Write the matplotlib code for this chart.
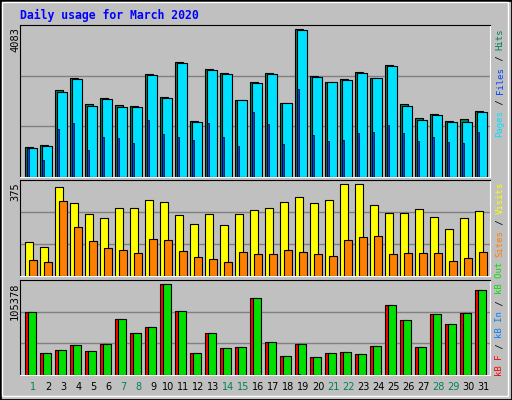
import matplotlib
matplotlib.use("Agg")
import matplotlib.pyplot as plt
from matplotlib.patches import Rectangle
import numpy as np

days = list(range(1, 32))
weekend = [1, 7, 8, 14, 15, 21, 22, 28, 29]
hits = [822, 868, 2392, 2734, 2004, 2171, 1977, 1949, 2845, 2199, 3168, 1533, 2974, 2864, 2115,
        2623, 2873, 2032, 4083, 2780, 2623, 2697, 2891, 2725, 3085, 2004, 1617, 1727, 1533, 1589, 1820]
pages = [785, 841, 2337, 2697, 1949, 2143, 1921, 1921, 2808, 2171, 3141, 1506, 2947, 2836, 2115,
         2587, 2836, 2032, 4055, 2753, 2614, 2670, 2864, 2725, 3058, 1949, 1561, 1700, 1506, 1506, 1783]
files = [785, 462, 1321, 1478, 739, 1099, 1072, 933, 1570, 1182, 1099, 1016, 1487, 1099, 850,
         1792, 1460, 905, 2429, 1155, 988, 1016, 1210, 1238, 1432, 1210, 988, 1099, 961, 933, 1238]
visits = [139, 118, 363, 298, 253, 236, 277, 277, 310, 302, 249, 212, 253, 208, 253,
          269, 277, 302, 322, 298, 310, 375, 375, 289, 257, 257, 273, 240, 192, 236, 265]
sites = [65, 57, 306, 200, 143, 114, 106, 94, 151, 147, 102, 77, 69, 57, 98,
         90, 90, 106, 98, 90, 82, 147, 159, 163, 90, 94, 94, 94, 61, 73, 98]
kb_out = [72957, 25477, 28950, 34740, 27793, 35898, 64850, 48637, 55586, 105378, 74115, 25477, 48637, 31267, 32425,
          89169, 38215, 22003, 35898, 20845, 25477, 26635, 24319, 33583, 81063, 63692, 32425, 70641, 59060, 71799, 98433]
kb_f = kb_out
kb_in = [0] * 18 + [900] + [0] * 12

BG = "#C0C0C0"
W, H = 512, 400
fig = plt.figure(figsize=(W / 100, H / 100), dpi=100, facecolor=BG)

# outer frame
fig.patches.append(Rectangle((0, 0), 1, 1, transform=fig.transFigure, fill=False, ec="black", lw=2))
fig.patches.append(Rectangle((2 / W, 4 / H), (W - 6) / W, (H - 6) / H, transform=fig.transFigure,
                             fill=False, ec="white", lw=1))

def mkax(top, bottom, ymax):
    ax = fig.add_axes([20 / W, (H - bottom) / H, 470 / W, (bottom - top) / H])
    ax.set_facecolor(BG)
    ax.set_xlim(0.667, 32)
    ax.set_ylim(0, ymax)
    for g in (ymax / 3, 2 * ymax / 3):
        ax.axhline(g, color="#808080", lw=1, zorder=0)
    ax.set_xticks([]); ax.set_yticks([])
    ax.spines["top"].set_color("black"); ax.spines["left"].set_color("black")
    ax.spines["bottom"].set_color("white"); ax.spines["right"].set_color("white")
    return ax

d = np.array(days, dtype=float)
ax1 = mkax(25, 176.7, 4083 * 455 / 442)
ax1.bar(d, hits, width=0.53, align="edge", color="#00805C", ec="black", lw=0.8, zorder=2)
ax1.bar(d + 0.15, pages, width=0.63, align="edge", color="#00E0FF", ec="black", lw=0.8, zorder=3)
ax1.bar(d + 0.15, files, width=0.15, align="edge", color="#0040FF", ec="black", lw=0.5, zorder=4)

ax2 = mkax(180, 276, 375 * 288 / 276)
ax2.bar(d, visits, width=0.53, align="edge", color="#FFFF00", ec="black", lw=0.8, zorder=2)
ax2.bar(d + 0.27, sites, width=0.5, align="edge", color="#FF8000", ec="black", lw=0.8, zorder=3)

ax3 = mkax(280, 375, 105378 * 285 / 273)
ax3.bar(d, kb_f, width=0.5, align="edge", color="#FF0000", ec="black", lw=0.8, zorder=2)
ax3.bar(d + 0.2, kb_out, width=0.53, align="edge", color="#00E000", ec="black", lw=0.8, zorder=3)
ax3.bar(d + 0.2, kb_in, width=0.12, align="edge", color="#0080FF", ec="black", lw=0.5, zorder=4)

mono = "DejaVu Sans Mono"
fig.text(20 / W, 1 - 15 / H, "Daily usage for March 2020", color="#0000FF", fontsize=8.3,
         fontweight="bold", family=mono, va="center", ha="left")

for ax, lab in ((ax1, "4083"), (ax2, "375"), (ax3, "105378")):
    fig.text(15 / W, ax.get_position().y1 - 2 / H, lab, rotation=90, fontsize=7.5, family=mono,
             ha="center", va="top", color="black")

for i in days:
    ax3.text(i + 0.55, -0.13, str(i), transform=ax3.get_xaxis_transform(), ha="center", va="center",
             fontsize=7, family="DejaVu Sans", color="#00805C" if i in weekend else "black")

fs = 6.5
cw = fs * 0.602 * 100 / 72
def vlabel(y_bottom_px, pieces):
    y = y_bottom_px
    for txt, col in pieces:
        fig.text(500 / W, 1 - y / H, txt, rotation=90, fontsize=fs, family=mono, color=col,
                 ha="center", va="bottom")
        y -= cw * len(txt)

vlabel(137, [("Pages", "#00E0FF"), (" / ", "black"), ("Files", "#0040FF"), (" / ", "black"), ("Hits", "#00805C")])
vlabel(257, [("Sites", "#FF8000"), (" / ", "black"), ("Visits", "#FFFF00")])
vlabel(376, [("kB F", "#FF0000"), (" / ", "black"), ("kB In", "#0080FF"), (" / ", "black"), ("kB Out", "#00E000")])

fig.savefig("out.png", dpi=100, facecolor=BG)
